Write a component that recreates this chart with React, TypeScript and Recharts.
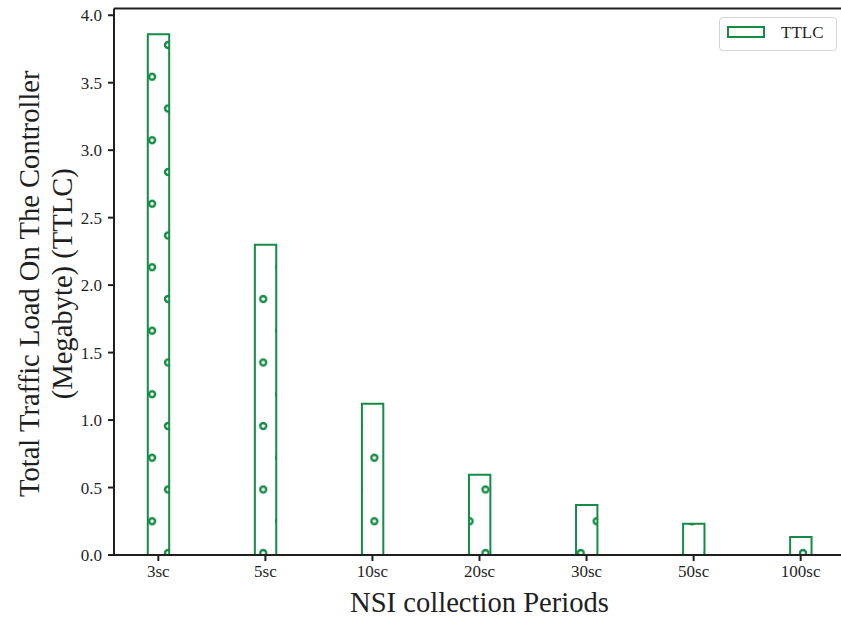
import { BarChart, Bar, XAxis, YAxis, Legend, ReferenceLine } from 'recharts'

const categories = ['3sc', '5sc', '10sc', '20sc', '30sc', '50sc', '100sc']
const ttlc = [3.86, 2.3, 1.12, 0.595, 0.37, 0.232, 0.133]
const yTicks = [0, 0.5, 1, 1.5, 2, 2.5, 3, 3.5, 4]

const GREEN = '#168b46'
const INK = '#1f1f1f'
const FONT = "'Liberation Serif', 'Times New Roman', Tinos, 'Nimbus Roman', Times, serif"

const data = categories.map((c, i) => ({ pos: i, name: c, ttlc: ttlc[i] }))

// bar: hatched fill + three visible sides (bottom sits under the spine)
const HatchBar = (props: any) => {
  const { x, y, width, height } = props
  if (!height) return null
  return (
    <g>
      <rect x={x} y={y} width={width} height={height} fill="url(#circleHatch)" stroke="none" />
      <path
        d={`M${x},${y + height} L${x},${y} L${x + width},${y} L${x + width},${y + height}`}
        fill="none"
        stroke={GREEN}
        strokeWidth={2}
      />
    </g>
  )
}

const YLabel = (props: any) => {
  const { viewBox } = props
  const cy = viewBox.y + viewBox.height / 2 + 2
  return (
    <g style={{ fontFamily: FONT }} fontSize={28.6} fill={INK}>
      <text x={29} y={cy} transform={`rotate(-90 29 ${cy})`} textAnchor="middle" dominantBaseline="central">
        Total Traffic Load On The Controller
      </text>
      <text x={62} y={cy} transform={`rotate(-90 62 ${cy})`} textAnchor="middle" dominantBaseline="central">
        (Megabyte) (TTLC)
      </text>
    </g>
  )
}

const XLabel = (props: any) => {
  const { viewBox } = props
  const cx = viewBox.x + viewBox.width / 2
  return (
    <text x={cx} y={612} textAnchor="middle" style={{ fontFamily: FONT }} fontSize={28.6} fill={INK}>
      NSI collection Periods
    </text>
  )
}

const LegendBox = () => (
  <div
    style={{
      position: 'absolute',
      left: 719,
      top: 17,
      width: 116,
      height: 32,
      border: '1px solid #d4d4d4',
      borderRadius: 4,
      background: '#fff',
      fontFamily: FONT,
      fontSize: 17,
      color: INK,
    }}
  >
    <div
      style={{
        position: 'absolute',
        left: 7,
        top: 8,
        width: 34,
        height: 8,
        border: `2px solid ${GREEN}`,
        background: '#fff',
      }}
    />
    <span style={{ position: 'absolute', left: 61, top: 5, lineHeight: '20px' }}>TTLC</span>
  </div>
)

export default function App() {
  return (
    <div style={{ position: 'absolute', left: 0, top: 0, width: 841, height: 619, overflow: 'hidden', background: '#fff', fontFamily: FONT }}>
      <BarChart width={850} height={619} data={data} margin={{ top: 8.5, right: 5, bottom: 0, left: 0 }}>
        <defs>
          <pattern id="circleHatch" patternUnits="userSpaceOnUse" x={168} y={45} width={31.75} height={63.5}>
            {[
              [0, 0],
              [31.75, 0],
              [0, 63.5],
              [31.75, 63.5],
              [15.875, 31.75],
            ].map(([cx, cy], i) => (
              <circle key={i} cx={cx} cy={cy} r={3} fill="none" stroke={GREEN} strokeWidth={2.4} />
            ))}
          </pattern>
        </defs>
        <XAxis
          dataKey="pos"
          type="number"
          domain={[-0.414, 6.414]}
          ticks={[0, 1, 2, 3, 4, 5, 6]}
          tickFormatter={(v: number) => categories[v]}
          interval={0}
          height={64}
          tickSize={6}
          tickMargin={4}
          tick={{ fontFamily: FONT, fontSize: 17, fill: INK }}
          tickLine={{ stroke: INK, strokeWidth: 2 }}
          axisLine={{ stroke: INK, strokeWidth: 2 }}
          label={(p: any) => <XLabel {...p} />}
        />
        <YAxis
          type="number"
          domain={[0, 4.05]}
          ticks={yTicks}
          tickFormatter={(v: number) => v.toFixed(1)}
          width={114}
          tickSize={6}
          tickMargin={6}
          tick={{ fontFamily: FONT, fontSize: 17, fill: INK }}
          tickLine={{ stroke: INK, strokeWidth: 2 }}
          axisLine={{ stroke: INK, strokeWidth: 2 }}
          label={(p: any) => <YLabel {...p} />}
        />
        <Bar dataKey="ttlc" name="TTLC" barSize={21.4} shape={HatchBar} isAnimationActive={false} />
        <ReferenceLine y={4.05} stroke={INK} strokeWidth={2} ifOverflow="visible" />
        <Legend content={LegendBox} wrapperStyle={{ position: 'absolute', left: 0, top: 0, width: 0, height: 0 }} />
      </BarChart>
    </div>
  )
}
